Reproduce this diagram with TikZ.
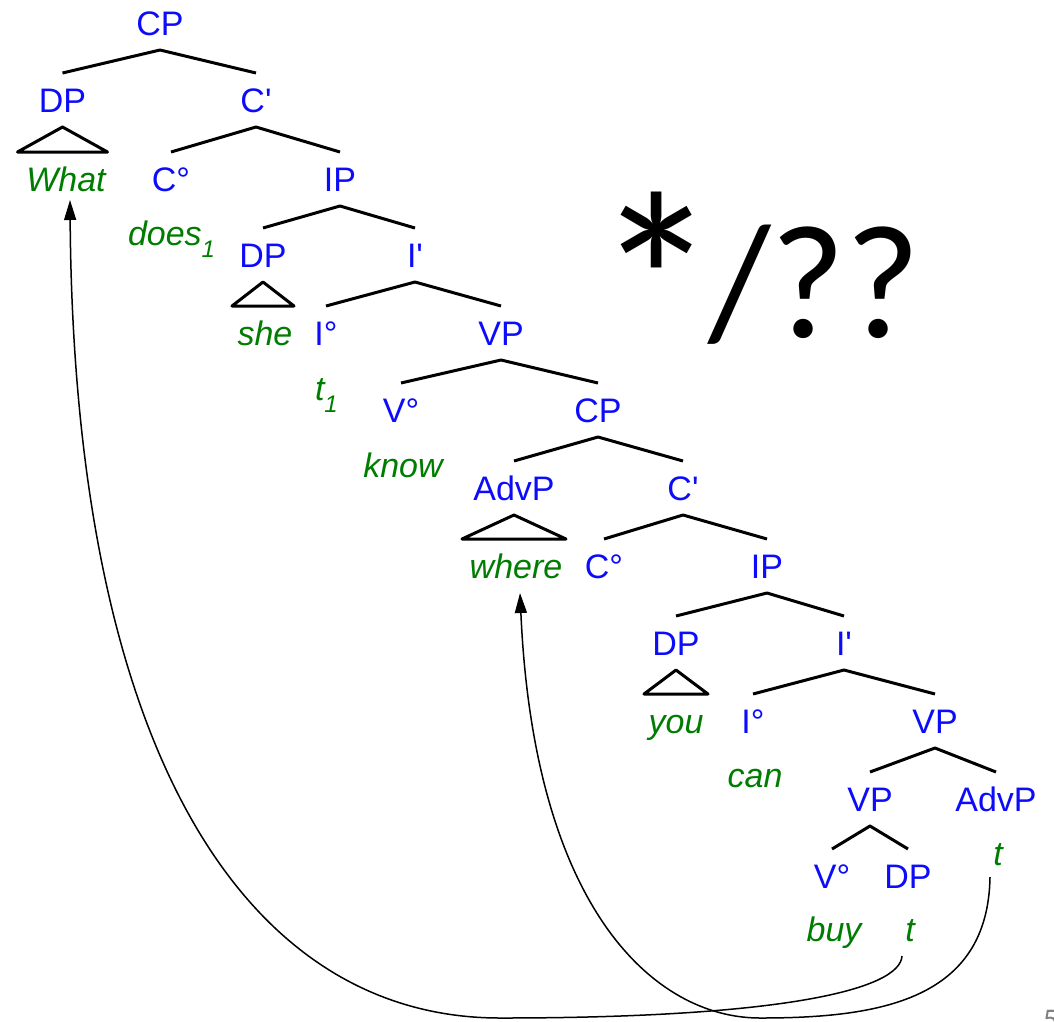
\documentclass[tikz,border=0pt]{standalone}
\usepackage{fontspec}
\setmainfont{Liberation Sans}
\newfontfamily\slidefont{Carlito}
\usetikzlibrary{calc,arrows.meta}
\definecolor{catblue}{RGB}{12,12,250}
\definecolor{wordgreen}{RGB}{0,125,0}
\newcommand{\subidx}[1]{\raisebox{-12pt}{\fontsize{24}{24}\selectfont #1}}

\begin{document}
\begin{tikzpicture}[x=1pt,y=-1pt,
  cat/.style={text=catblue, font=\fontsize{34}{38}\selectfont, anchor=base,
    inner sep=0pt, outer xsep=0pt, outer ysep=15pt, text height=24pt, text depth=0pt},
  word/.style={cat, text=wordgreen, font=\fontsize{34}{38}\selectfont\itshape},
  branch/.style={line width=3pt, line join=round},
  move/.style={line width=1.5pt, -{Triangle[length=20pt,width=12pt]}},
  slide/.style={inner sep=0pt, anchor=base west}]

\useasboundingbox (0,0) rectangle (1054,1021);

% category labels and words
\node[cat]  (cp1)   at (160,35)  {CP};
\node[cat]  (dp1)   at (62.5,112) {DP};
\node[cat]  (cbar1) at (256,112) {C\textquotesingle};
\node[word] (what)  at (66,191)  {What};
\node[cat]  (c1)    at (171,191) {C°};
\node[cat]  (ip1)   at (340,191) {IP};
\node[word, anchor=base west] (does) at (128,245) {does\subidx{1}};
\node[cat]  (dp2)   at (263,267) {DP};
\node[cat]  (ibar1) at (415,267) {I\textquotesingle};
\node[word] (she)   at (265,345) {she};
\node[cat]  (i1)    at (326,345) {I°};
\node[cat]  (vp1)   at (501,345) {VP};
\node[word, anchor=base west] (t1) at (315,400) {t\subidx{1}};
\node[cat]  (v1)    at (401,422) {V°};
\node[cat]  (cp2)   at (598,422) {CP};
\node[word] (know)  at (403,477) {know};
\node[cat]  (advp1) at (514,500) {AdvP};
\node[cat]  (cbar2) at (683,500) {C\textquotesingle};
\node[word] (where) at (516,578) {where};
\node[cat]  (c2)    at (604,578) {C°};
\node[cat]  (ip2)   at (767,578) {IP};
\node[cat]  (dp3)   at (676,655) {DP};
\node[cat]  (ibar2) at (844,655) {I\textquotesingle};
\node[word] (you)   at (676,733) {you};
\node[cat]  (i2)    at (753,733) {I°};
\node[cat]  (vp2)   at (935,733) {VP};
\node[word] (can)   at (755,787) {can};
\node[cat]  (vp3)   at (870,811) {VP};
\node[cat]  (advp2) at (996,811) {AdvP};
\node[word] (tadv)  at (998,865) {t};
\node[cat]  (v2)    at (832,888) {V°};
\node[cat]  (dp4)   at (908,888) {DP};
\node[word] (buy)   at (834,941) {buy};
\node[word] (tdp)   at (910,941) {t};

% branches
\draw[branch] (dp1.north) -- (cp1.south) -- (cbar1.north);
\draw[branch] (c1.north) -- (cbar1.south) -- (ip1.north);
\draw[branch] (dp2.north) -- (ip1.south) -- (ibar1.north);
\draw[branch] (i1.north) -- (ibar1.south) -- (vp1.north);
\draw[branch] (v1.north) -- (vp1.south) -- (cp2.north);
\draw[branch] (advp1.north) -- (cp2.south) -- (cbar2.north);
\draw[branch] (c2.north) -- (cbar2.south) -- (ip2.north);
\draw[branch] (dp3.north) -- (ip2.south) -- (ibar2.north);
\draw[branch] (i2.north) -- (ibar2.south) -- (vp2.north);
\draw[branch] (vp3.north) -- (vp2.south) -- (advp2.north);
\draw[branch] (v2.north) -- (vp3.south) -- (dp4.north);

% phrasal triangles
\draw[branch] ($(dp1.south |- what.north)+(-45,0)$) -- (dp1.south) -- ($(dp1.south |- what.north)+(45,0)$) -- cycle;
\draw[branch] ($(dp2.south |- she.north)+(-31,0)$) -- (dp2.south) -- ($(dp2.south |- she.north)+(31,0)$) -- cycle;
\draw[branch] ($(advp1.south |- where.north)+(-52,0)$) -- (advp1.south) -- ($(advp1.south |- where.north)+(52,0)$) -- cycle;
\draw[branch] ($(dp3.south |- you.north)+(-32,0)$) -- (dp3.south) -- ($(dp3.south |- you.north)+(32,0)$) -- cycle;

% movement arrows
\coordinate (lowA) at (500,1018);
\coordinate (lowB) at (760,1018);
\draw[move] ([xshift=-8pt]tdp.south) .. controls (900,990) and (780,1018) .. (lowA)
  .. controls (250,1018) and (74,760) .. ([xshift=4pt,yshift=6pt]what.south);
\draw[move] ([xshift=-8pt,yshift=3pt]tadv.south) .. controls (988,1000) and (880,1018) .. (lowB)
  .. controls (655,1018) and (534,910) .. ([xshift=4pt]where.south);

% judgement mark
\node[slide] (mark) at (594,337)
  {{\slidefont\fontsize{250}{250}\selectfont\raisebox{-32pt}{*}}\hspace{-10.5pt}{\slidefont\fontsize{162}{162}\selectfont /??}};

% slide number
\node[inner sep=0pt, anchor=north west, text=gray, font=\slidefont\fontsize{30}{30}\selectfont] (pg) at (1043,1010) {5};
\end{tikzpicture}
\end{document}
